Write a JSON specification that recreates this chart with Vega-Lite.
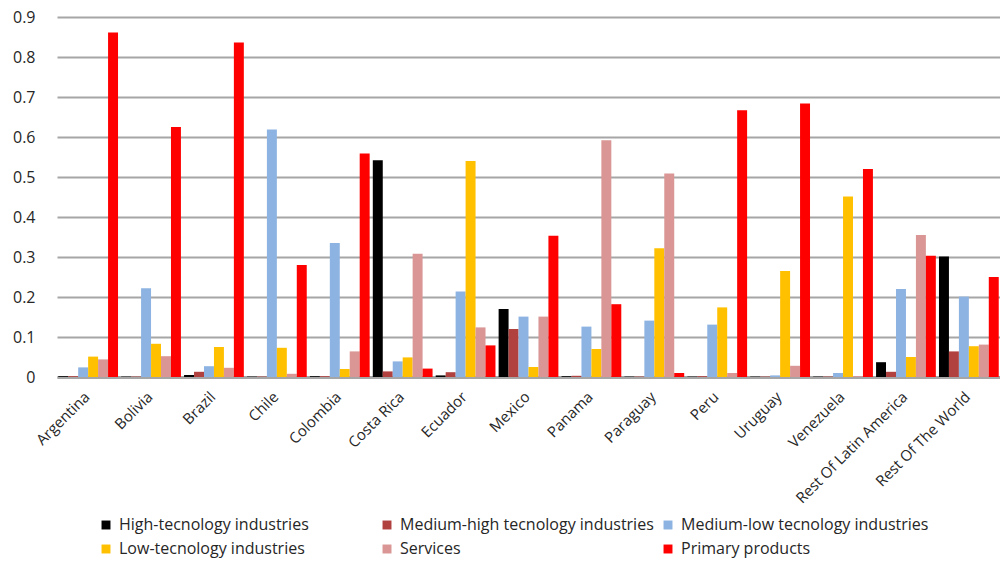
{
  "$schema": "https://vega.github.io/schema/vega-lite/v6.json",
  "autosize": {"type": "none"},
  "padding": {"left": 57, "top": 17, "right": 0, "bottom": 185},
  "width": 943,
  "height": 360,
  "config": {
    "view": {"stroke": null},
    "font": "Open Sans",
    "axis": {"labelFont": "Open Sans", "labelColor": "#262626", "titleFont": "Open Sans"},
    "legend": {"labelFont": "Open Sans"}
  },
  "data": {
    "values": [
      {"country": "Argentina", "sector": "High-tecnology industries", "value": 0.002},
      {"country": "Argentina", "sector": "Medium-high tecnology industries", "value": 0.002},
      {"country": "Argentina", "sector": "Medium-low tecnology industries", "value": 0.024},
      {"country": "Argentina", "sector": "Low-tecnology industries", "value": 0.051},
      {"country": "Argentina", "sector": "Services", "value": 0.044},
      {"country": "Argentina", "sector": "Primary products", "value": 0.861},
      {"country": "Bolivia", "sector": "High-tecnology industries", "value": 0.001},
      {"country": "Bolivia", "sector": "Medium-high tecnology industries", "value": 0.001},
      {"country": "Bolivia", "sector": "Medium-low tecnology industries", "value": 0.222},
      {"country": "Bolivia", "sector": "Low-tecnology industries", "value": 0.083},
      {"country": "Bolivia", "sector": "Services", "value": 0.052},
      {"country": "Bolivia", "sector": "Primary products", "value": 0.625},
      {"country": "Brazil", "sector": "High-tecnology industries", "value": 0.005},
      {"country": "Brazil", "sector": "Medium-high tecnology industries", "value": 0.013},
      {"country": "Brazil", "sector": "Medium-low tecnology industries", "value": 0.027},
      {"country": "Brazil", "sector": "Low-tecnology industries", "value": 0.075},
      {"country": "Brazil", "sector": "Services", "value": 0.023},
      {"country": "Brazil", "sector": "Primary products", "value": 0.836},
      {"country": "Chile", "sector": "High-tecnology industries", "value": 0.001},
      {"country": "Chile", "sector": "Medium-high tecnology industries", "value": 0.001},
      {"country": "Chile", "sector": "Medium-low tecnology industries", "value": 0.619},
      {"country": "Chile", "sector": "Low-tecnology industries", "value": 0.073},
      {"country": "Chile", "sector": "Services", "value": 0.008},
      {"country": "Chile", "sector": "Primary products", "value": 0.28},
      {"country": "Colombia", "sector": "High-tecnology industries", "value": 0.002},
      {"country": "Colombia", "sector": "Medium-high tecnology industries", "value": 0.002},
      {"country": "Colombia", "sector": "Medium-low tecnology industries", "value": 0.335},
      {"country": "Colombia", "sector": "Low-tecnology industries", "value": 0.02},
      {"country": "Colombia", "sector": "Services", "value": 0.064},
      {"country": "Colombia", "sector": "Primary products", "value": 0.559},
      {"country": "Costa Rica", "sector": "High-tecnology industries", "value": 0.542},
      {"country": "Costa Rica", "sector": "Medium-high tecnology industries", "value": 0.014},
      {"country": "Costa Rica", "sector": "Medium-low tecnology industries", "value": 0.039},
      {"country": "Costa Rica", "sector": "Low-tecnology industries", "value": 0.049},
      {"country": "Costa Rica", "sector": "Services", "value": 0.308},
      {"country": "Costa Rica", "sector": "Primary products", "value": 0.021},
      {"country": "Ecuador", "sector": "High-tecnology industries", "value": 0.004},
      {"country": "Ecuador", "sector": "Medium-high tecnology industries", "value": 0.012},
      {"country": "Ecuador", "sector": "Medium-low tecnology industries", "value": 0.214},
      {"country": "Ecuador", "sector": "Low-tecnology industries", "value": 0.54},
      {"country": "Ecuador", "sector": "Services", "value": 0.124},
      {"country": "Ecuador", "sector": "Primary products", "value": 0.079},
      {"country": "Mexico", "sector": "High-tecnology industries", "value": 0.17},
      {"country": "Mexico", "sector": "Medium-high tecnology industries", "value": 0.12},
      {"country": "Mexico", "sector": "Medium-low tecnology industries", "value": 0.151},
      {"country": "Mexico", "sector": "Low-tecnology industries", "value": 0.025},
      {"country": "Mexico", "sector": "Services", "value": 0.151},
      {"country": "Mexico", "sector": "Primary products", "value": 0.353},
      {"country": "Panama", "sector": "High-tecnology industries", "value": 0.002},
      {"country": "Panama", "sector": "Medium-high tecnology industries", "value": 0.003},
      {"country": "Panama", "sector": "Medium-low tecnology industries", "value": 0.126},
      {"country": "Panama", "sector": "Low-tecnology industries", "value": 0.07},
      {"country": "Panama", "sector": "Services", "value": 0.592},
      {"country": "Panama", "sector": "Primary products", "value": 0.182},
      {"country": "Paraguay", "sector": "High-tecnology industries", "value": 0.001},
      {"country": "Paraguay", "sector": "Medium-high tecnology industries", "value": 0.001},
      {"country": "Paraguay", "sector": "Medium-low tecnology industries", "value": 0.141},
      {"country": "Paraguay", "sector": "Low-tecnology industries", "value": 0.322},
      {"country": "Paraguay", "sector": "Services", "value": 0.509},
      {"country": "Paraguay", "sector": "Primary products", "value": 0.01},
      {"country": "Peru", "sector": "High-tecnology industries", "value": 0.001},
      {"country": "Peru", "sector": "Medium-high tecnology industries", "value": 0.002},
      {"country": "Peru", "sector": "Medium-low tecnology industries", "value": 0.131},
      {"country": "Peru", "sector": "Low-tecnology industries", "value": 0.174},
      {"country": "Peru", "sector": "Services", "value": 0.01},
      {"country": "Peru", "sector": "Primary products", "value": 0.667},
      {"country": "Uruguay", "sector": "High-tecnology industries", "value": 0.001},
      {"country": "Uruguay", "sector": "Medium-high tecnology industries", "value": 0.001},
      {"country": "Uruguay", "sector": "Medium-low tecnology industries", "value": 0.004},
      {"country": "Uruguay", "sector": "Low-tecnology industries", "value": 0.265},
      {"country": "Uruguay", "sector": "Services", "value": 0.028},
      {"country": "Uruguay", "sector": "Primary products", "value": 0.684},
      {"country": "Venezuela", "sector": "High-tecnology industries", "value": 0.001},
      {"country": "Venezuela", "sector": "Medium-high tecnology industries", "value": 0.001},
      {"country": "Venezuela", "sector": "Medium-low tecnology industries", "value": 0.01},
      {"country": "Venezuela", "sector": "Low-tecnology industries", "value": 0.451},
      {"country": "Venezuela", "sector": "Services", "value": 0.002},
      {"country": "Venezuela", "sector": "Primary products", "value": 0.52},
      {"country": "Rest Of Latin America", "sector": "High-tecnology industries", "value": 0.037},
      {"country": "Rest Of Latin America", "sector": "Medium-high tecnology industries", "value": 0.013},
      {"country": "Rest Of Latin America", "sector": "Medium-low tecnology industries", "value": 0.22},
      {"country": "Rest Of Latin America", "sector": "Low-tecnology industries", "value": 0.05},
      {"country": "Rest Of Latin America", "sector": "Services", "value": 0.355},
      {"country": "Rest Of Latin America", "sector": "Primary products", "value": 0.303},
      {"country": "Rest Of The World", "sector": "High-tecnology industries", "value": 0.301},
      {"country": "Rest Of The World", "sector": "Medium-high tecnology industries", "value": 0.064},
      {"country": "Rest Of The World", "sector": "Medium-low tecnology industries", "value": 0.201},
      {"country": "Rest Of The World", "sector": "Low-tecnology industries", "value": 0.077},
      {"country": "Rest Of The World", "sector": "Services", "value": 0.081},
      {"country": "Rest Of The World", "sector": "Primary products", "value": 0.25}
    ]
  },
  "mark": {"type": "bar"},
  "encoding": {
    "x": {
      "field": "country",
      "type": "nominal",
      "sort": null,
      "title": null,
      "scale": {"paddingInner": 0.05, "paddingOuter": 0.02},
      "axis": {
        "labelAngle": -45,
        "labelFontSize": 15,
        "labelPadding": 12,
        "labelOffset": -6,
        "ticks": false,
        "domainColor": "#a6a6a6",
        "domainWidth": 3,
        "labelLimit": 300
      }
    },
    "xOffset": {
      "field": "sector",
      "type": "nominal",
      "sort": ["High-tecnology industries", "Medium-high tecnology industries", "Medium-low tecnology industries", "Low-tecnology industries", "Services", "Primary products"],
      "scale": {"paddingInner": 0, "paddingOuter": 0}
    },
    "y": {
      "field": "value",
      "type": "quantitative",
      "title": null,
      "scale": {"domain": [0, 0.9], "nice": false},
      "axis": {
        "values": [0, 0.1, 0.2, 0.3, 0.4, 0.5, 0.6, 0.7, 0.8, 0.9],
        "format": "~g",
        "labelFontSize": 16,
        "labelPadding": 22,
        "ticks": false,
        "domain": false,
        "gridColor": "#a6a6a6",
        "gridWidth": 2
      }
    },
    "color": {
      "field": "sector",
      "type": "nominal",
      "sort": ["High-tecnology industries", "Medium-high tecnology industries", "Medium-low tecnology industries", "Low-tecnology industries", "Services", "Primary products"],
      "scale": {
        "domain": ["High-tecnology industries", "Medium-high tecnology industries", "Medium-low tecnology industries", "Low-tecnology industries", "Services", "Primary products"],
        "range": ["#000000", "#b0413e", "#8db3e2", "#ffc000", "#d99694", "#ff0000"]
      },
      "legend": {
        "title": null,
        "orient": "none",
        "legendX": 41,
        "legendY": 500,
        "direction": "horizontal",
        "columns": 3,
        "gridAlign": "all",
        "columnPadding": 6,
        "rowPadding": 8,
        "symbolType": "square",
        "symbolSize": 80,
        "symbolStrokeWidth": 0,
        "labelFontSize": 16,
        "labelColor": "#262626",
        "labelLimit": 400,
        "labelOffset": 5
      }
    }
  }
}
